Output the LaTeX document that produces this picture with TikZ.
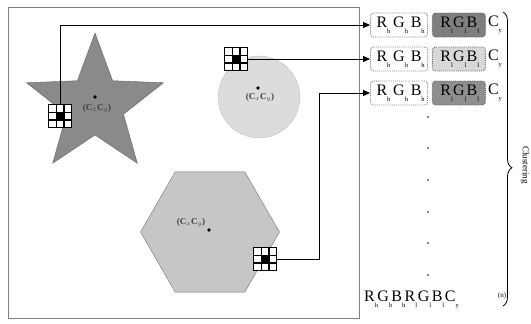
\documentclass[tikz,border=0pt]{standalone}
\usepackage{fontspec}
\setmainfont{Liberation Serif}
\usepackage{tikz}
\usetikzlibrary{positioning}
\usetikzlibrary{shapes.geometric}
\usetikzlibrary{arrows.meta}
\usetikzlibrary{decorations.pathreplacing}

\definecolor{starfill}{HTML}{8A8A8A}
\definecolor{discfill}{HTML}{DCDCDC}
\definecolor{hexfill}{HTML}{C6C6C6}
\definecolor{boxdark}{HTML}{7E7E7E}
\definecolor{boxlight}{HTML}{D8D8D8}
\definecolor{boxmid}{HTML}{8E8E8E}

\newcommand{\lowsub}[1]{\rlap{\raisebox{-5.5pt}{\fontsize{6.5}{7}\selectfont #1}}}
\newcommand{\rgbh}{R\lowsub{h}\hspace{6pt}G\lowsub{h}\hspace{6pt}B\lowsub{h}}
\newcommand{\rgbl}{R\lowsub{l}\hspace{2pt}G\lowsub{l}\hspace{2pt}B\lowsub{l}}

\tikzset{
  pixgrid/.style={draw, line width=1.4pt, fill=white, minimum size=23pt, inner sep=0pt,
    path picture={
      \fill[black] ([shift={(-4pt,-4pt)}]path picture bounding box.center) rectangle ([shift={(4pt,4pt)}]path picture bounding box.center);
      \draw[black, line width=1.4pt]
        ([xshift=-3.8pt]path picture bounding box.north) -- ([xshift=-3.8pt]path picture bounding box.south)
        ([xshift=3.8pt]path picture bounding box.north) -- ([xshift=3.8pt]path picture bounding box.south)
        ([yshift=-3.8pt]path picture bounding box.west) -- ([yshift=-3.8pt]path picture bounding box.east)
        ([yshift=3.8pt]path picture bounding box.west) -- ([yshift=3.8pt]path picture bounding box.east);
    }},
  hbox/.style={draw=gray, densely dotted, line width=0.9pt, rounded corners=3pt, fill=white,
    minimum width=57pt, minimum height=24pt, inner sep=0pt},
  lbox/.style={hbox, fill=#1, draw=black!60, minimum width=53pt},
  centroid/.style={font=\fontsize{9}{10}\selectfont\bfseries, text=black!75, inner sep=0pt},
  link/.style={line width=0.8pt, -{Triangle[length=7pt,width=6pt]}},
}

\begin{document}
\begin{tikzpicture}[x=1pt, y=-1pt, font=\fontsize{16}{18}\selectfont]
  \useasboundingbox (0,0) rectangle (531,324);
  \draw[gray, line width=0.8pt] (8,7) rectangle (359,318);

  \node[star, star points=5, star point ratio=2.4, minimum size=144pt, inner sep=0pt,
    fill=starfill, draw=black!60] (star) at (95,105) {};
  \node[circle, minimum size=82pt, inner sep=0pt, fill=discfill, draw=gray, densely dotted] (disc) at (259,97) {};
  \node[regular polygon, regular polygon sides=6, minimum size=139pt, inner sep=0pt,
    fill=hexfill, draw=black!55] (hex) at (210,232) {};

  \fill (95,97) circle (1.8pt) (258,88) circle (1.8pt) (209,230) circle (1.8pt);
  \node[centroid] (starc) at (97,108) {(C$_x$C$_y$)};
  \node[centroid] (discc) at (260,97) {(C$_x$C$_y$)};
  \node[centroid] (hexc) at (191,222) {(C$_x$C$_y$)};

  \node[pixgrid] (starpix) at (60,116) {};
  \node[pixgrid] (discpix) at (236,59) {};
  \node[pixgrid] (hexpix) at (265,259) {};

  \node[hbox] (row1a) at (399,25) {\rgbh};
  \node[lbox=boxdark, right=4pt of row1a] (row1b) {\rgbl};
  \node[right=1pt of row1b, inner sep=1pt] (row1c) {C\lowsub{y}};
  \node[hbox] (row2a) at (399,59) {\rgbh};
  \node[lbox=boxlight, right=4pt of row2a] (row2b) {\rgbl};
  \node[right=1pt of row2b, inner sep=1pt] (row2c) {C\lowsub{y}};
  \node[hbox] (row3a) at (399,93) {\rgbh};
  \node[lbox=boxmid, right=4pt of row3a] (row3b) {\rgbl};
  \node[right=1pt of row3b, inner sep=1pt] (row3c) {C\lowsub{y}};

  \fill (428,117) circle (0.9pt) (428,148) circle (0.9pt) (428,180) circle (0.9pt)
        (428,212) circle (0.9pt) (428,243) circle (0.9pt) (428,275) circle (0.9pt);

  \node[anchor=west, inner sep=0pt] (rown) at (364,300)
    {R\lowsub{h}\hspace{2.5pt}G\lowsub{h}\hspace{2.5pt}B\lowsub{h}\hspace{2.5pt}R\lowsub{l}\hspace{2.5pt}G\lowsub{l}\hspace{2.5pt}B\lowsub{l}\hspace{2.5pt}C\lowsub{y}};
  \node[font=\fontsize{7}{8}\selectfont, inner sep=0pt] (rowlabel) at (502,296) {(n)};

  \draw[link] (starpix.north) |- (row1a.west);
  \draw[link] (discpix.east) -- (row2a.west);
  \draw[link] (hexpix.east) -- ++(42,0) |- (row3a.west);

  \coordinate (btop) at (503,12);
  \coordinate (bbot) at (503,306);
  \draw[decorate, decoration={brace, amplitude=9pt, aspect=0.53}, line width=0.8pt] (btop) -- (bbot);
  \node[rotate=-90, font=\fontsize{9}{10}\selectfont, inner sep=0pt] (clus) at (525,165) {Clustering};
\end{tikzpicture}
\end{document}
